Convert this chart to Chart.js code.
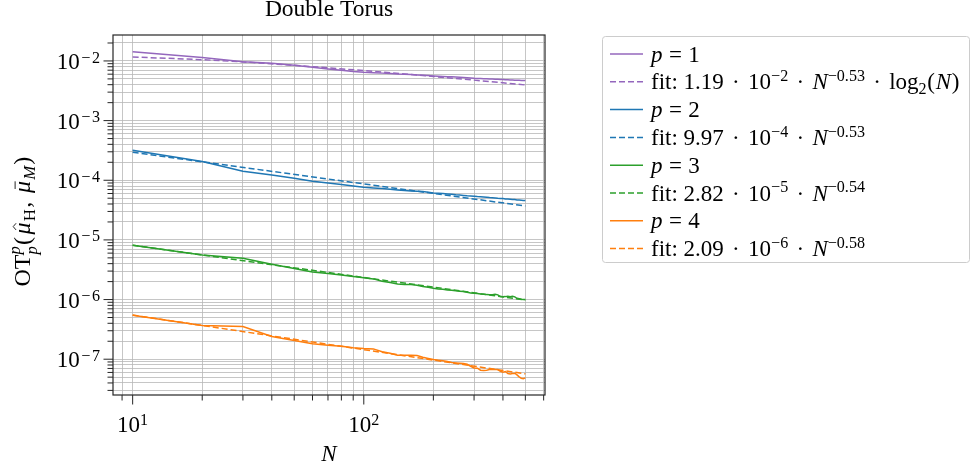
<!DOCTYPE html>
<html>
<head>
<meta charset="utf-8">
<script src="https://cdn.jsdelivr.net/npm/chart.js@4.4.1/dist/chart.umd.min.js"></script>
<style>
    html, body { margin: 0; padding: 0; background: #fff; }
    #iwrap { width: 971px; height: 467px; }
</style>
</head>
<body>
<div id="iwrap"><canvas id="idouble_torus" width="971" height="467"></canvas></div>
<script>
//Sample sizes N (same for every p)
const N = [10, 20, 30, 40, 50, 60, 70, 80, 90, 100,
           110, 120, 130, 140, 150, 160, 170, 180, 190, 200,
           210, 220, 230, 240, 250, 260, 270, 280, 290, 300,
           310, 320, 330, 340, 350, 360, 370, 380, 390, 400,
           410, 420, 430, 440, 450, 460, 470, 480, 490, 500];

//Measured OT_p^p distances, one array per p
const otP1 = [1.43e-2, 1.14e-2, 9.74e-3, 9.14e-3, 8.46e-3, 7.83e-3, 7.34e-3, 6.98e-3, 6.63e-3, 6.46e-3,
              6.37e-3, 6.25e-3, 6.17e-3, 6.05e-3, 5.98e-3, 5.90e-3, 5.83e-3, 5.75e-3, 5.68e-3, 5.61e-3,
              5.56e-3, 5.50e-3, 5.45e-3, 5.41e-3, 5.36e-3, 5.31e-3, 5.26e-3, 5.21e-3, 5.17e-3, 5.12e-3,
              5.10e-3, 5.07e-3, 5.04e-3, 5.02e-3, 4.99e-3, 4.97e-3, 4.94e-3, 4.92e-3, 4.89e-3, 4.87e-3,
              4.85e-3, 4.83e-3, 4.81e-3, 4.79e-3, 4.77e-3, 4.76e-3, 4.74e-3, 4.72e-3, 4.70e-3, 4.68e-3];
const otP2 = [3.18e-4, 2.06e-4, 1.42e-4, 1.23e-4, 1.08e-4, 9.62e-5, 9.02e-5, 8.46e-5, 8.04e-5, 7.63e-5,
              7.44e-5, 7.25e-5, 7.07e-5, 6.89e-5, 6.71e-5, 6.63e-5, 6.54e-5, 6.46e-5, 6.29e-5, 6.13e-5,
              6.05e-5, 5.98e-5, 5.90e-5, 5.83e-5, 5.71e-5, 5.64e-5, 5.57e-5, 5.50e-5, 5.46e-5, 5.39e-5,
              5.32e-5, 5.29e-5, 5.26e-5, 5.19e-5, 5.12e-5, 5.09e-5, 5.06e-5, 4.99e-5, 4.96e-5, 4.93e-5,
              4.87e-5, 4.84e-5, 4.80e-5, 4.77e-5, 4.74e-5, 4.68e-5, 4.65e-5, 4.62e-5, 4.59e-5, 4.56e-5];
const otP3 = [8.14e-6, 5.61e-6, 4.93e-6, 3.91e-6, 3.31e-6, 2.91e-6, 2.73e-6, 2.59e-6, 2.43e-6, 2.31e-6,
              2.22e-6, 2.03e-6, 1.93e-6, 1.83e-6, 1.78e-6, 1.78e-6, 1.74e-6, 1.65e-6, 1.61e-6, 1.55e-6,
              1.51e-6, 1.49e-6, 1.45e-6, 1.43e-6, 1.40e-6, 1.38e-6, 1.36e-6, 1.33e-6, 1.29e-6, 1.28e-6,
              1.26e-6, 1.24e-6, 1.23e-6, 1.21e-6, 1.20e-6, 1.20e-6, 1.23e-6, 1.20e-6, 1.12e-6, 1.11e-6,
              1.12e-6, 1.14e-6, 1.12e-6, 1.14e-6, 1.11e-6, 1.05e-6, 1.03e-6, 1.01e-6, 1.00e-6, 1.00e-6];
const otP4 = [5.48e-7, 3.68e-7, 3.54e-7, 2.40e-7, 2.06e-7, 1.81e-7, 1.72e-7, 1.65e-7, 1.55e-7, 1.51e-7,
              1.49e-7, 1.33e-7, 1.26e-7, 1.17e-7, 1.17e-7, 1.16e-7, 1.15e-7, 1.08e-7, 1.03e-7, 9.87e-8,
              9.62e-8, 9.38e-8, 9.14e-8, 8.79e-8, 8.68e-8, 8.57e-8, 8.46e-8, 8.24e-8, 7.63e-8, 7.15e-8,
              7.06e-8, 6.53e-8, 6.45e-8, 6.53e-8, 6.71e-8, 6.79e-8, 6.71e-8, 6.71e-8, 6.29e-8, 6.05e-8,
              6.21e-8, 5.74e-8, 5.67e-8, 5.74e-8, 5.82e-8, 5.46e-8, 5.05e-8, 4.80e-8, 4.73e-8, 4.86e-8];

//Fitted curves (dashed), read at a few N
const fitN1 = [10, 20, 30, 50, 70, 100, 150, 200, 300, 400, 500];
const fitP1 = [1.167e-2, 1.051e-2, 9.63e-3, 8.45e-3, 7.68e-3, 6.89e-3, 6.04e-3, 5.49e-3, 4.77e-3, 4.30e-3, 3.96e-3];
const fitN = [10, 500];
const fitP2 = [2.942e-4, 3.700e-5];
const fitP3 = [8.133e-6, 9.836e-7];
const fitP4 = [5.497e-7, 5.685e-8];

//Legend texts of the fits
const fitCoef = ["1.19", "9.97", "2.82", "2.09"];
const fitTen = ["\u22122", "\u22124", "\u22125", "\u22126"];
const fitPow = ["\u22120.53", "\u22120.53", "\u22120.54", "\u22120.58"];

const pallet = ["#9467bd", "#1f77b4", "#2ca02c", "#ff7f0e"];
const FONT = '"Liberation Serif", "Times New Roman", serif';

//Axis limits (log10) as in the picture
const xLim = [Math.pow(10, 0.915), Math.pow(10, 2.784)];
const yLim = [Math.pow(10, -7.60), Math.pow(10, -1.565)];

//Log ticks 1..9 * 10^k inside the limits
function logTicks(lo, hi) {
    const ticks = [];
    for (let e = Math.floor(Math.log10(lo)); e <= Math.ceil(Math.log10(hi)); e++) {
        for (let m = 1; m <= 9; m++) {
            const v = m * Math.pow(10, e);
            if (v >= lo && v <= hi) ticks.push({ value: v, major: m === 1, exp: e });
        }
    }
    return ticks;
}

//Rich text: runs of {t, i: italic, s: scale, dy: shift (em), pad: space round (em), stay: no advance, acc}
function runFont(r, size) {
    return `${r.i ? "italic " : ""}${(size * (r.s || 1)).toFixed(1)}px ${FONT}`;
}
function runsWidth(ctx, runs, size) {
    let w = 0;
    runs.forEach(r => {
        ctx.font = runFont(r, size);
        if (!r.stay) w += ctx.measureText(r.t).width + 2 * (r.pad || 0) * size;
    });
    return w;
}
function drawRuns(ctx, runs, x, y, size, align) {
    const total = runsWidth(ctx, runs, size);
    let cx = align === "center" ? x - total / 2 : (align === "right" ? x - total : x);
    ctx.textAlign = "left";
    ctx.textBaseline = "alphabetic";
    runs.forEach(r => {
        ctx.font = runFont(r, size);
        const pad = (r.pad || 0) * size;
        const w = ctx.measureText(r.t).width;
        const gy = y + (r.dy || 0) * size;
        ctx.fillText(r.t, cx + pad, gy);
        if (r.acc) {
            const mid = cx + pad + w / 2 + 0.08 * size;
            ctx.beginPath();
            ctx.lineWidth = 1;
            if (r.acc === "hat") {
                ctx.moveTo(mid - 0.14 * size, gy - 0.58 * size);
                ctx.lineTo(mid, gy - 0.70 * size);
                ctx.lineTo(mid + 0.14 * size, gy - 0.58 * size);
            } else {
                ctx.moveTo(mid - 0.16 * size, gy - 0.62 * size);
                ctx.lineTo(mid + 0.16 * size, gy - 0.62 * size);
            }
            ctx.stroke();
        }
        if (!r.stay) cx += w + 2 * pad;
    });
}

//superscript power of ten, minus sign a bit wider like TeX
function powRuns(exp, dy) {
    const runs = [{ t: "10" }];
    if (exp < 0) runs.push({ t: "\u2212", s: 0.7, dy: dy, pad: 0.07 });
    runs.push({ t: String(Math.abs(exp)), s: 0.7, dy: dy });
    return runs;
}

const dot = { t: "\u00b7", pad: 0.36 };
function legendRuns(k, isFit) {
    if (!isFit) return [{ t: "p", i: true }, { t: "=", pad: 0.28 }, { t: String(k + 1) }];
    const runs = [{ t: "fit: " }, { t: fitCoef[k] }, dot, { t: "10" }, { t: fitTen[k], s: 0.7, dy: -0.36 },
                  dot, { t: "N", i: true }, { t: fitPow[k], s: 0.7, dy: -0.36 }];
    if (k === 0) runs.push(dot, { t: "log" }, { t: "2", s: 0.7, dy: 0.22 }, { t: "(", pad: 0.03 }, { t: "N", i: true }, { t: ")", pad: 0.03 });
    return runs;
}

//Title, frame, ticks, labels and legend box
const decorPlugin = {
    id: "decor",
    afterDraw(chart) {
        const ctx = chart.ctx;
        const area = chart.chartArea;
        const xs = chart.scales.x, ys = chart.scales.y;
        ctx.save();
        ctx.fillStyle = "#000";

        //frame
        ctx.lineWidth = 1.2;
        ctx.strokeStyle = "#262626";
        ctx.strokeRect(area.left, area.top, area.right - area.left, area.bottom - area.top);

        //x ticks
        ctx.lineWidth = 1;
        xs.ticks.forEach(t => {
            const px = xs.getPixelForValue(t.value);
            ctx.beginPath();
            ctx.moveTo(px, area.bottom);
            ctx.lineTo(px, area.bottom + (t.major ? 9.5 : 5.5));
            ctx.stroke();
            if (t.major) drawRuns(ctx, powRuns(t.exp, -0.32), px, area.bottom + 37, 23, "center");
        });

        //y ticks
        ys.ticks.forEach(t => {
            const py = ys.getPixelForValue(t.value);
            ctx.beginPath();
            ctx.moveTo(area.left, py);
            ctx.lineTo(area.left - (t.major ? 9.5 : 5.5), py);
            ctx.stroke();
            if (t.major) drawRuns(ctx, powRuns(t.exp, -0.28), area.left - 13, py + 8, 23, "right");
        });

        //title and axis labels
        const midX = (area.left + area.right) / 2;
        drawRuns(ctx, [{ t: "Double Torus" }], midX, 16, 23.5, "center");
        drawRuns(ctx, [{ t: "N", i: true }], midX, 461, 23, "center");
        ctx.save();
        ctx.translate(30, (area.top + area.bottom) / 2 + 6);
        ctx.rotate(-Math.PI / 2);
        drawRuns(ctx, [{ t: "OT" }, { t: "p", i: true, s: 0.7, dy: -0.42, stay: true }, { t: "p", i: true, s: 0.7, dy: 0.28 },
                       { t: "(", pad: 0.05 }, { t: "\u03bc", i: true, acc: "hat", pad: 0.05 }, { t: "H", s: 0.7, dy: 0.22 },
                       { t: ",", pad: 0.06 }, { t: " " },
                       { t: "\u03bc", i: true, acc: "bar", pad: 0.05 }, { t: "M", i: true, s: 0.7, dy: 0.22 }, { t: ")", pad: 0.05 }],
                 0, 0, 24, "center");
        ctx.restore();

        //legend
        const lx = 602.5, ly = 36.5, lw = 367, lh = 226;
        ctx.fillStyle = "#fff";
        ctx.strokeStyle = "#cccccc";
        ctx.lineWidth = 1;
        ctx.beginPath();
        ctx.roundRect(lx, ly, lw, lh, 3);
        ctx.fill();
        ctx.stroke();
        ctx.fillStyle = "#000";
        chart.data.datasets.forEach((ds, i) => {
            const ry = 54 + 27.8 * i;
            ctx.strokeStyle = ds.borderColor;
            ctx.lineWidth = 1.5;
            ctx.setLineDash(ds.borderDash || []);
            ctx.beginPath();
            ctx.moveTo(610, ry);
            ctx.lineTo(643, ry);
            ctx.stroke();
            ctx.setLineDash([]);
            ctx.strokeStyle = "#000";
            drawRuns(ctx, legendRuns(Math.floor(i / 2), i % 2 === 1), 651, ry + 7.5, 23, "left");
        });
        ctx.restore();
    }
};

//Building the datasets: measured line then its fit, for each p
const measured = [otP1, otP2, otP3, otP4];
const fits = [[fitN1, fitP1], [fitN, fitP2], [fitN, fitP3], [fitN, fitP4]];
const datasets = [];
for (let k = 0; k < 4; k++) {
    datasets.push({
        label: `p = ${k + 1}`,
        data: N.map((n, i) => ({ x: n, y: measured[k][i] })),
        borderColor: pallet[k],
        borderWidth: 1.5,
        pointRadius: 0,
        order: 8 - 2 * k
    });
    datasets.push({
        label: `fit ${k + 1}`,
        data: fits[k][0].map((n, i) => ({ x: n, y: fits[k][1][i] })),
        borderColor: pallet[k],
        borderWidth: 1.5,
        borderDash: [6, 3],
        pointRadius: 0,
        order: 7 - 2 * k
    });
}

const gridStyle = { color: "#b8b8b8", lineWidth: 0.8, drawTicks: false };

new Chart("idouble_torus", {
    type: "line",
    data: { datasets: datasets },
    options: {
        responsive: false,
        animation: false,
        devicePixelRatio: 1,
        layout: { padding: { left: 0, top: 35, right: 426, bottom: 0 } },
        plugins: { legend: { display: false }, title: { display: false }, tooltip: { enabled: false } },
        scales: {
            x: {
                type: "logarithmic",
                min: xLim[0],
                max: xLim[1],
                grid: gridStyle,
                border: { display: false },
                ticks: { display: false },
                afterBuildTicks: (scale) => { scale.ticks = logTicks(xLim[0], xLim[1]); },
                afterFit: (scale) => { scale.height = 72; }
            },
            y: {
                type: "logarithmic",
                min: yLim[0],
                max: yLim[1],
                grid: gridStyle,
                border: { display: false },
                ticks: { display: false },
                afterBuildTicks: (scale) => { scale.ticks = logTicks(yLim[0], yLim[1]); },
                afterFit: (scale) => { scale.width = 113; }
            }
        }
    },
    plugins: [decorPlugin]
});
</script>
</body>
</html>
